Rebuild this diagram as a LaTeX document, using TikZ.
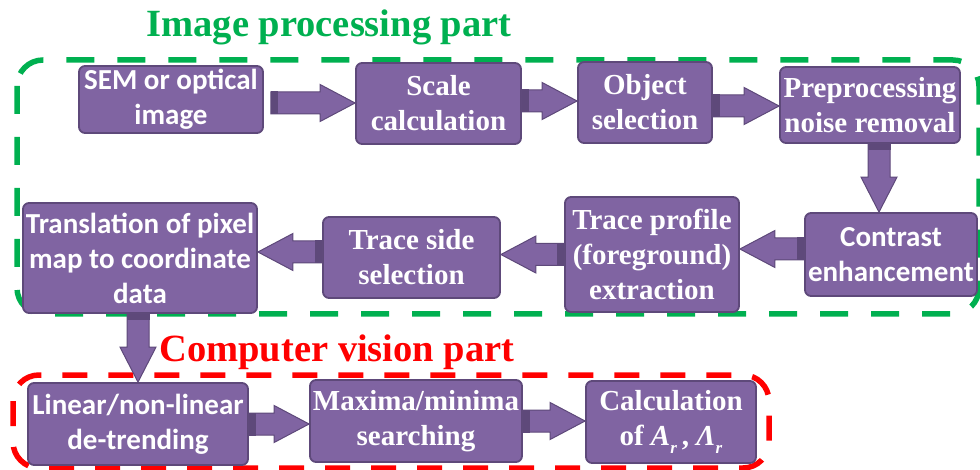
\documentclass[tikz,border=0pt]{standalone}
\usepackage{fontspec}
\setmainfont{Liberation Serif}
\newfontfamily\calfont{Carlito}
\usetikzlibrary{calc}

\definecolor{boxfill}{RGB}{128,100,162}
\definecolor{boxedge}{RGB}{94,73,122}
\definecolor{tailshade}{RGB}{94,73,122}
\definecolor{ipgreen}{RGB}{0,176,80}
\definecolor{cvred}{RGB}{255,0,0}

\tikzset{
  stage/.style={draw=boxedge, fill=boxfill, line width=1.8pt, rounded corners=6pt,
    text=white, align=center, inner sep=0pt},
  serifstage/.style={stage, font=\fontsize{29}{35}\selectfont\bfseries},
  sansstage/.style={stage, font=\fontsize{29}{35}\selectfont\calfont\bfseries},
  % horizontal block arrow from start to the x of the target
  harrow/.style={fill=boxfill, draw=boxedge, line width=1pt, line join=miter,
    to path={let \p1=(\tikztostart), \p2=(\tikztotarget), \n1={sign(\x2-\x1)} in
      (\x1,\y1+11pt) -- ({\x2-(\n1)*35pt},\y1+11pt) -- ({\x2-(\n1)*35pt},\y1+18.5pt)
      -- (\x2,\y1) -- ({\x2-(\n1)*35pt},\y1-18.5pt) -- ({\x2-(\n1)*35pt},\y1-11pt)
      -- (\x1,\y1-11pt) -- cycle}},
  htail/.style={fill=tailshade,
    to path={let \p1=(\tikztostart), \p2=(\tikztotarget), \n1={sign(\x2-\x1)} in
      (\x1,\y1+11.5pt) rectangle ({\x1+(\n1)*7pt},\y1-11.5pt)}},
  % vertical block arrow from start to the y of the target
  varrow/.style={fill=boxfill, draw=boxedge, line width=1pt, line join=miter,
    to path={let \p1=(\tikztostart), \p2=(\tikztotarget), \n1={sign(\y2-\y1)} in
      (\x1+11pt,\y1) -- (\x1+11pt,{\y2-(\n1)*35pt}) -- (\x1+18pt,{\y2-(\n1)*35pt})
      -- (\x1,\y2) -- (\x1-18pt,{\y2-(\n1)*35pt}) -- (\x1-11pt,{\y2-(\n1)*35pt})
      -- (\x1-11pt,\y1) -- cycle}},
  vtail/.style={fill=tailshade,
    to path={let \p1=(\tikztostart), \p2=(\tikztotarget), \n1={sign(\y2-\y1)} in
      (\x1+11.5pt,\y1) rectangle (\x1-11.5pt,{\y1+(\n1)*6pt})}},
  partframe/.style={line width=5.5pt, rounded corners=26pt, dash pattern=on 28pt off 23pt},
  parttitle/.style={font=\fontsize{38.5}{42}\selectfont\bfseries, anchor=base, inner sep=0pt}
}

\newcommand\hflow[2]{\path[harrow] (#1) to (#2); \path[htail] (#1) to (#2);}
\newcommand\vflow[2]{\path[varrow] (#1) to (#2); \path[vtail] (#1) to (#2);}

\begin{document}
\begin{tikzpicture}[x=1pt, y=-1pt]
  \useasboundingbox (0,0) rectangle (980,470);

  % part frames
  \draw[partframe, draw=ipgreen] (17,60) rectangle (979,314);
  \draw[partframe, draw=cvred, dash pattern=on 25pt off 21pt] (13,375) rectangle (769,468);

  % part titles
  \node[parttitle, text=ipgreen] (iptitle) at (329,37) {Image processing part};
  \node[parttitle, text=cvred] (cvtitle) at (337,362) {Computer vision part};

  % image processing stages
  \node[sansstage, minimum width=184pt, minimum height=67pt] (sem) at (171,99.5)
    {SEM or optical\\image};
  \node[serifstage, minimum width=165pt, minimum height=81pt] (scale) at (438.5,103.5)
    {Scale\\calculation};
  \node[serifstage, minimum width=134pt, minimum height=81pt] (object) at (645,102.5)
    {Object\\selection};
  \node[serifstage, minimum width=180pt, minimum height=76pt] (prep) at (870,105)
    {Preprocessing\\noise removal};
  \node[sansstage, minimum width=172pt, minimum height=83pt] (contrast) at (891,254.5)
    {Contrast\\enhancement};
  \node[serifstage, minimum width=174pt, minimum height=115pt] (profile) at (652,254.5)
    {Trace profile\\(foreground)\\extraction};
  \node[serifstage, minimum width=177pt, minimum height=81pt] (side) at (411.5,257.5)
    {Trace side\\selection};
  \node[sansstage, minimum width=234pt, minimum height=110pt] (trans) at (140,258)
    {Translation of pixel\\map to coordinate\\data};

  % computer vision stages
  \node[sansstage, minimum width=220pt, minimum height=82pt] (linear) at (138,424)
    {Linear/non-linear\\de-trending};
  \node[serifstage, minimum width=212pt, minimum height=82pt] (maxima) at (416,421)
    {Maxima/minima\\searching};
  \node[serifstage, minimum width=170pt, minimum height=82pt] (calc) at (671,422)
    {Calculation\\of \textit{A}\raisebox{-0.3em}{\fontsize{17}{17}\selectfont\textit{r}}\,,
     \textit{Λ}\raisebox{-0.3em}{\fontsize{17}{17}\selectfont\textit{r}}};

  % flow
  \hflow{$(sem.east)+(7,3.5)$}{scale.west}
  \hflow{$(scale.east)+(0,-2.5)$}{object.west}
  \hflow{$(object.east)+(0,3.5)$}{prep.west}
  \vflow{prep.south -| 879,0}{contrast.north}
  \hflow{$(contrast.west)+(0,-5.5)$}{profile.east}
  \hflow{profile.west}{side.east}
  \hflow{$(side.west)+(0,-5.5)$}{trans.east}
  \vflow{trans.south -| 138,0}{linear.north}
  \hflow{linear.east}{maxima.west}
  \hflow{maxima.east}{calc.west}
\end{tikzpicture}
\end{document}
